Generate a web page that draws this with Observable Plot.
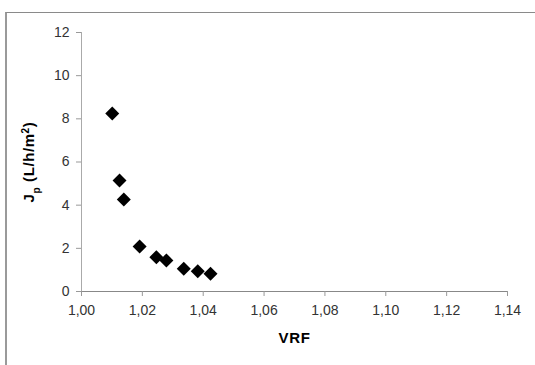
<!DOCTYPE html>
<html>
<head>
<meta charset="utf-8">
<script src="https://cdn.jsdelivr.net/npm/d3@7"></script>
<script src="https://cdn.jsdelivr.net/npm/@observablehq/plot@0.6"></script>
<style>
  html, body { margin: 0; padding: 0; background: #fff; }
  #wrap { position: relative; width: 535px; height: 365px; overflow: hidden; }
  #frame { position: absolute; left: 5px; top: 12px; width: 600px; height: 400px;
           border-top: 1px solid #8a8a8a; border-left: 2px solid #9a9a9a; box-sizing: border-box; }
  #chart { position: absolute; left: 0; top: 0; }
  #chart svg [aria-label="x-axis label"] text,
  #chart svg [aria-label="y-axis label"] text { font-weight: bold; fill: #000; font-size: 15px; letter-spacing: 0.6px; }
</style>
</head>
<body>
<div id="wrap"><div id="frame"></div><div id="chart"></div></div>
<script>
const vrf = [1.0101, 1.0125, 1.0139, 1.0191, 1.0246, 1.0279, 1.0336, 1.0382, 1.0424];
const jp  = [8.25, 5.14, 4.26, 2.08, 1.59, 1.44, 1.05, 0.94, 0.82];
const xTicks = [1.00, 1.02, 1.04, 1.06, 1.08, 1.10, 1.12, 1.14];
const yTicks = [0, 2, 4, 6, 8, 10, 12];
const xLabel = "VRF";
const yLabel = "Jp (L/h/m2)";

const data = vrf.map((v, i) => ({x: v, y: jp[i]}));
const fmt = d => d.toFixed(2).replace(".", ",");

const chart = Plot.plot({
  width: 535,
  height: 365,
  marginLeft: 81,
  marginRight: 28,
  marginTop: 32,
  marginBottom: 74,
  style: {fontFamily: "'Liberation Sans', Arial, sans-serif", fontSize: "14px", background: "transparent", color: "#333"},
  x: {domain: [1.0, 1.14]},
  y: {domain: [0, 12]},
  marks: [
    Plot.ruleY([0], {stroke: "#888", strokeWidth: 1}),
    Plot.ruleX([1.0], {stroke: "#aaa", strokeWidth: 1}),
    Plot.axisX({ticks: xTicks, tickFormat: fmt, tickSize: 5, tickPadding: 9, stroke: "#999",
                label: xLabel, labelAnchor: "center", labelOffset: 51, labelArrow: "none"}),
    Plot.axisY({ticks: yTicks, tickSize: 5, tickPadding: 7, stroke: "#999",
                label: yLabel, labelAnchor: "center", labelOffset: 58, labelArrow: "none"}),
    Plot.dot(data, {x: "x", y: "y", symbol: "diamond2", r: 6.3, fill: "#000", stroke: "none"})
  ]
});
document.getElementById("chart").appendChild(chart);

// subscript / superscript in y label
const yl = chart.querySelector('[aria-label="y-axis label"] text');
if (yl) {
  yl.textContent = "";
  const ns = "http://www.w3.org/2000/svg";
  const parts = [["J", null], ["p", "sub"], [" (L/h/m", null], ["2", "super"], [")", null]];
  for (const [t, shift] of parts) {
    const ts = document.createElementNS(ns, "tspan");
    ts.textContent = t;
    if (shift) { ts.setAttribute("baseline-shift", shift); ts.setAttribute("font-size", "10"); }
    yl.appendChild(ts);
  }
}
</script>
</body>
</html>
